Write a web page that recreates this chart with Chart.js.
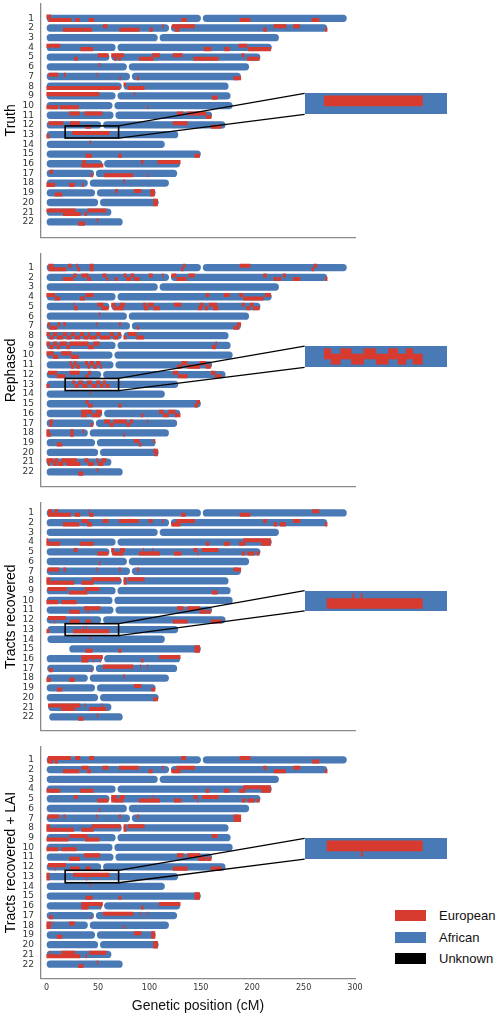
<!DOCTYPE html>
<html>
<head>
<meta charset="utf-8">
<title>Local ancestry karyograms</title>
<script src="https://cdn.jsdelivr.net/npm/chart.js@4.4.1/dist/chart.umd.min.js"></script>
<style>
  html, body { margin: 0; padding: 0; background: #fff; }
  body { position: relative; width: 500px; height: 1017px; overflow: hidden;
         font-family: 'Liberation Sans', Arial, Helvetica, sans-serif; }
  canvas { position: absolute; left: 0; }
  #legend { position: absolute; left: 395px; top: 905px; font-size: 13px; color: #111; }
  #legend div { height: 21.5px; display: flex; align-items: center; }
  #legend span.box { width: 31px; height: 11px; margin-right: 13px; display: inline-block; }
</style>
</head>
<body>
<div id="legend"></div>
<script>
// chromosomes and their genetic lengths (cM)
const chromosomes = ['1','2','3','4','5','6','7','8','9','10','11','12','13','14','15','16','17','18','19','20','21','22'];
const chromLengths = [292, 273, 226, 219, 208, 197, 189, 177, 179, 181, 161, 174, 128, 115, 150, 130, 127, 119, 106, 109, 63, 74];
const centromeres = [151, 120, 109, 68, 62, 79, 82, 74, 68, 65, 66, 54, null, null, null, 55, 47, 41, 48, 51, null, null];
// first covered position per chromosome in the "Tracts recovered" panel
const recoveredStarts = [0, 0, 0, 0, 0, 0, 0, 0, 0, 0, 0, 0, 0.7, 0.7, 22, 0, 0.5, 0, 0, 0, 1.5, 2.5];
const xTicks = [0, 50, 100, 150, 200, 250, 300];
const panelTitles = ['Truth', 'Rephased', 'Tracts recovered', 'Tracts recovered + LAI'];
const legendLabels = ['European', 'African', 'Unknown'];
const zoomRange = [18, 70]; // cM range shown in the zoomed inset (chromosome 13)
const zoomChrom = 13;

// European tracts: [chromosome, haplotype (0 upper, 1 lower), start cM, end cM]
const truthTracts = [
  [1,0,0,4],[1,1,2,24],[1,1,28,32],[1,1,41,46],[1,1,131,136],[1,1,188,198],[1,1,258,265],
  [2,1,16,44],[2,0,55,59],[2,1,71,90],[2,1,100,103],[2,0,112.5,113.5],[2,0,122,144],[2,1,125,129],[2,1,211,214],[2,0,221,233],[2,0,240,246],[2,1,271,273],
  [4,0,0,13],[4,1,33,45],[4,1,153,160],[4,1,173,178],[4,0,187,195],[4,1,196,218],
  [5,1,27,30],[5,0,50,60],[5,0,63,75],[5,1,66,68],[5,1,70,72],[5,1,90,104],[5,0,103,110],[5,0,123,132],[5,1,143,167],[5,0,190,192],[5,1,195,207],
  [6,0,51,52],
  [7,0,2,11],[7,0,17,18.5],[7,0,49,49.6],[7,1,71,72],[7,1,88,89.5],[7,1,182,189],
  [8,1,0,71],[8,0,75,77],[8,1,79,95],
  [9,0,0,51],[9,0,85,85.6],[9,1,161,166],
  [10,1,0,11],[10,1,13,31],[10,1,98,98.6],
  [11,0,22,32],[11,0,37,54],[11,0,127,133],[11,0,137,155],[11,1,155,160],
  [12,0,2,16],[12,0,23,32],[12,1,38,43],[12,0,123,137],[12,1,160,170],
  [13,1,0,2.6],[13,0,25,61],
  [14,0,42,43],
  [15,1,38,44],[15,1,70,73],[15,1,144,149],
  [16,0,35,38],[16,1,34,55],[16,0,92,94],[16,0,108,130],
  [17,0,3,6],[17,1,43,45],[17,1,56,84],[17,1,98,98.6],
  [18,1,0,8],[18,1,22,27],[18,1,35,36],[18,0,75,76],
  [19,1,8,15],[19,0,67,69],[19,0,85,92],[19,0,101,105],[19,1,101,105],
  [20,0,104,108],[20,1,104,108],
  [21,0,0,28],[21,1,16,33],[21,1,37,39],[21,0,40,58],
  [22,1,31,37],[22,0,49,50]
];
const rephasedTracts = [
  [1,0,2,6.5],[1,0,21,24],[1,0,29,30],[1,0,42,45.5],[1,0,133,135],[1,0,188,198],[1,0,260,263],
  [1,1,2,19],[1,1,30,32.5],[1,1,42,45.5],[1,1,131,133],[1,1,258,260],
  [2,1,16,26],[2,0,26,29],[2,0,34,40.5],[2,1,39.5,43],[2,0,54.5,58],[2,1,58,60],[2,1,66.5,69],[2,0,75,77.5],[2,1,77.5,82],[2,0,82,85],[2,1,85,90],[2,0,99.5,103],[2,0,112.5,113.5],[2,0,121.5,126],[2,1,126.5,136],[2,0,138,144],[2,0,211,214],[2,1,221,224],[2,1,225,228],[2,0,230,232.5],[2,1,240,246.5],[2,1,271,273],
  [4,0,0,8],[4,1,8,13],[4,1,32.5,37],[4,0,38,45.5],[4,0,155,158],[4,0,172.5,178],[4,0,187.5,191],[4,1,191.5,211],[4,0,212.5,218],
  [5,0,26.5,27.5],[5,1,27,30],[5,0,49.5,55],[5,1,53.5,60],[5,0,63,66.5],[5,1,65,74.5],[5,0,71.5,76],[5,0,94,97],[5,1,95,99],[5,0,99,104],[5,1,104,110],[5,0,124,131],[5,1,147.5,151],[5,0,149,152.5],[5,1,154,157],[5,0,158,165.5],[5,1,162,167],[5,0,190,192.5],[5,1,194.5,198],[5,0,198,201],[5,1,201,207],
  [6,0,51,52],
  [7,0,1,3],[7,1,3,10],[7,0,11,13],[7,0,16.5,18.5],[7,0,48.5,49.3],[7,0,70.5,72],[7,1,88,89.5],[7,1,182,187],[7,0,185.5,189],
  [8,0,0,3],[8,1,3,6.5],[8,0,6.5,10],[8,1,10,16],[8,0,16,19.5],[8,1,19.5,24],[8,0,24,27.5],[8,1,27.5,32.5],[8,0,32.5,36],[8,1,36,40.5],[8,0,40.5,42],[8,1,42,48.5],[8,0,48.5,52],[8,1,52,61.5],[8,0,61.5,65],[8,1,65,69.5],[8,0,69.5,72],[8,1,75,77.5],[8,0,79.5,87.5],[8,1,87.5,94.5],
  [9,0,0,3],[9,1,3,6.5],[9,0,6.5,10],[9,1,10,13],[9,0,13,19.5],[9,1,19.5,22.5],[9,0,22.5,40.5],[9,1,40.5,45.5],[9,0,45.5,51],[9,1,161,164.5],[9,0,164.5,165.5],
  [10,0,0,6.5],[10,1,6.5,11],[10,0,14.5,24],[10,1,24,31],
  [11,0,22.5,24],[11,1,24,26.5],[11,0,26.5,29],[11,1,29,32],[11,0,37.5,40],[11,1,40,42],[11,0,42,45.5],[11,1,45.5,48.5],[11,0,48.5,52],[11,1,52,53.5],[11,1,127,131.5],[11,0,131.5,136.5],[11,1,137,149],[11,0,149,154.5],[11,1,155,159.5],
  [12,0,1.5,10],[12,1,10,18],[12,0,22.5,32],[12,1,38,40.5],[12,0,40.5,43],[12,0,123,128],[12,1,128,137],[12,0,160,164],[12,1,164,170],
  [13,1,0,2.6],[13,0,25,27.5],[13,1,27.5,31],[13,0,31,35],[13,1,35,39.5],[13,0,39.5,44],[13,1,44,48.5],[13,0,48.5,52],[13,1,52,55],[13,0,55,57.5],[13,1,57.5,61],
  [14,0,42,43],
  [15,0,38,40.5],[15,1,40.5,44.5],[15,1,70,72.5],[15,1,144,147],[15,0,146,149],
  [16,0,34,44],[16,1,34,39],[16,1,44,52],[16,0,48.5,53.5],[16,1,92,94],[16,0,109.5,113.5],[16,1,113.5,118.5],[16,0,118.5,125],[16,1,125,130],
  [17,0,3,6],[17,1,3,5],[17,1,43,45],[17,0,56,61.5],[17,1,61.5,65],[17,0,65,78],[17,1,78,81],[17,0,81,84],[17,0,98,98.6],
  [18,0,0,2.6],[18,1,0,4],[18,1,23,26],[18,0,23.5,26],[18,0,35,36],[18,1,75,76],
  [19,1,10,15],[19,0,85,90],[19,1,90,92],[19,0,104,105.5],
  [20,0,104,108],[20,1,105,108],
  [21,0,0,6.5],[21,0,8,11],[21,0,14.5,29],[21,0,37,40.5],[21,0,48.5,50],[21,0,53.5,58],
  [21,1,1.5,3],[21,1,6.5,10],[21,1,11,16],[21,1,19.5,32.5],[21,1,40.5,45.5],[21,1,50,55],
  [22,1,31,35.5],[22,0,49,50]
];
const recoveredTracts = [
  [1,0,1.5,5],[1,0,8,11],[1,1,1.5,23.5],[1,0,41,41.6],[1,1,27.5,32.5],[1,1,41.5,45.5],[1,1,131,135],[1,1,188,198],[1,0,258.5,265],
  [2,1,16,31.5],[2,0,34,40.5],[2,1,39.5,44],[2,0,54.5,60],[2,0,70.5,89.5],[2,0,99.5,103],[2,0,112.5,113.5],[2,1,121.5,130],[2,0,126.5,144],[2,0,211,214],[2,1,221,224],[2,1,227,232.5],[2,0,240,246.5],[2,1,271,273],
  [4,0,0,1.6],[4,1,0,13],[4,1,32.5,45.5],[4,1,155,158],[4,1,172.5,178],[4,1,187.5,193],[4,0,191.5,218],[4,1,209,218],
  [5,0,26.5,30],[5,1,49.5,60],[5,0,63,65.5],[5,1,64,74.5],[5,0,71.5,76],[5,1,90,110],[5,0,94,94.6],[5,0,103,103.6],[5,1,124,131],[5,0,143,146.5],[5,1,147,147.6],[5,0,151,167],[5,1,190,192.5],[5,1,195.5,202],[5,1,204.5,207],
  [6,1,51,52],
  [7,0,1,12],[7,0,16.5,18.5],[7,0,48.5,49.3],[7,0,70.5,72],[7,0,88,89.5],[7,0,182,189],
  [8,0,0,3],[8,1,0,26.5],[8,1,34,45.5],[8,0,44,71.5],[8,0,75,77.5],[8,1,75,77.5],[8,0,79.5,95],
  [9,0,1,19.5],[9,1,22,39.5],[9,0,37.5,51],[9,1,161,166],
  [10,1,0,11],[10,1,14.5,29],
  [11,1,22,32],[11,0,36.5,52],[11,1,40,40.6],[11,0,127,133],[11,0,137,149],[11,1,149,154.5],[11,1,155.5,159.5],
  [12,0,1.5,18.5],[12,1,7.5,8.1],[12,1,23,32],[12,1,38,43],[12,1,123,137],[12,1,160,170],
  [13,1,0,2.6],[13,1,26,61],[13,0,35.5,36],[13,0,38.5,39],
  [14,0,42,43],
  [15,1,38,44.5],[15,1,70,72.5],[15,0,144,149],[15,1,144,149],
  [16,0,34,54.5],[16,1,34,40.5],[16,1,45,45.6],[16,1,52,52.6],[16,1,92,94],[16,0,109.5,130],
  [17,1,2.5,6],[17,1,43.5,44.1],[17,0,55,84],[17,0,91,91.6],[17,0,98,98.6],
  [18,1,0,4],[18,1,22,27],[18,0,75,76],
  [19,1,10,15],[19,0,85,92],[19,1,102,105.5],
  [20,1,104,108],
  [21,0,1.5,32.5],[21,1,14.5,27.5],[21,0,37,37.6],[21,1,41.5,58],[21,0,53.5,54.1],
  [22,1,31,35.5],[22,0,49,50]
];
const laiTracts = [
  [1,0,1.5,23.5],[1,1,1,6],[1,1,8,11],[1,0,28,32.5],[1,0,41.5,46],[1,0,131,135.5],[1,0,188,198],[1,1,258.5,265],
  [2,1,16,31.5],[2,0,34,40.5],[2,1,39.5,43],[2,0,54.5,60],[2,0,70.5,89.5],[2,1,99.5,103],[2,0,112.5,113.5],[2,1,121.5,130],[2,0,126.5,144],[2,0,211,214],[2,1,221,232.5],[2,0,240,246.5],[2,1,271,273],
  [4,1,0,13],[4,1,32.5,45.5],[4,1,155,158],[4,1,172.5,178],[4,1,187.5,193],[4,0,191.5,218],[4,1,209,218],
  [5,0,26.5,30],[5,1,49.5,60],[5,0,63,68],[5,1,63,74.5],[5,0,71.5,76],[5,1,90,110],[5,0,103,103.6],[5,1,124,131],[5,0,143,146.5],[5,1,147,147.6],[5,0,151.5,167],[5,1,190,193],[5,1,195.5,202],[5,1,204.5,207],
  [6,1,51,52],
  [7,0,1,12],[7,0,16.5,18],[7,0,48.5,49.3],[7,0,70.5,72],[7,0,88,89.5],[7,0,182,189],[7,1,182,189],
  [8,0,0,3],[8,1,0,26.5],[8,1,34,45.5],[8,0,44,72],[8,0,75,77.5],[8,1,75,77.5],[8,0,79.5,95],
  [9,1,0,21],[9,0,22,39.5],[9,1,37.5,51],[9,0,161,166],
  [10,1,0,11],[10,1,14.5,29],
  [11,1,22,32],[11,0,36.5,52],[11,0,127,133],[11,0,137,149],[11,1,148,154.5],[11,1,155.5,160],
  [12,0,1.5,18.5],[12,1,8,8.6],[12,1,23,32],[12,1,38,43],[12,1,123,137],[12,1,160,170],
  [13,0,0,2.6],[13,1,0,2.6],[13,0,26,61],[13,1,38.5,39.1],
  [14,0,42,43],
  [15,1,38,44.5],[15,1,70,72.5],[15,0,144,149],[15,1,144,149],
  [16,0,34,54.5],[16,1,34,40.5],[16,1,52,52.6],[16,1,92,94],[16,0,109.5,130],
  [17,1,2.5,6],[17,1,43.5,44.1],[17,0,55,84],[17,0,91,91.6],[17,0,98,98.6],
  [18,0,0,4],[18,1,0,4],[18,0,6,6.6],[18,0,22,27],[18,1,75,76],
  [19,1,10,15],[19,0,85,92],[19,0,102,105.5],[19,1,102,105.5],
  [20,0,104,108],[20,1,104,108],
  [21,1,0,32.5],[21,0,3,3.6],[21,0,14.5,27.5],[21,1,38,39],[21,0,41.5,58],
  [22,1,31,35.5],[22,0,49,50]
];
const panelTracts = [truthTracts, rephasedTracts, recoveredTracts, laiTracts];

const RED = '#d73a2f', BLUE = '#4a7ab5', BLACK = '#000000';
const legendColors = [RED, BLUE, BLACK];
const FONT = "'Liberation Sans', Arial, Helvetica, sans-serif";
const TICK_FONT = "'DejaVu Sans', sans-serif";

// pixel layout of each panel (spine top/bottom) and its y range, zoom box and inset rows
const panelGeom = [
  { top: 3.3,   bottom: 237.3, yMin: 0.0,  yMax: 23.04, box: [12.1, 13.35], inset: [8.75, 10.91] },
  { top: 254,   bottom: 486.7, yMin: 0.15, yMax: 22.98, box: [12.4, 13.64], inset: [9.08, 11.27] },
  { top: 502.7, bottom: 730.7, yMin: 0.48, yMax: 22.88, box: [12.4, 13.62], inset: [8.99, 11.09] },
  { top: 746.7, bottom: 978.3, yMin: 0.19, yMax: 22.91, box: [12.35, 13.63], inset: [9.08, 11.21] }
];
const insetLeftCm = 251;
const insetWidth = 142;

function chromBars(starts) {
  const out = [];
  chromLengths.forEach((len, i) => {
    const s = starts ? starts[i] : 0, cen = centromeres[i];
    if (cen === null) {
      out.push({ x: [s, len], y: i + 1 });
    } else {
      out.push({ x: [s, cen - 0.9], y: i + 1 });
      out.push({ x: [cen + 0.9, len], y: i + 1 });
    }
  });
  return out;
}

function tractBars(tracts, hap, shift) {
  return tracts.filter(t => t[1] === hap)
    .map(t => ({ x: [t[2], t[3]], y: t[0] + (hap === 0 ? -shift : shift) }));
}

function makeDatasets(tracts, starts, size, onlyChrom) {
  const keep = d => onlyChrom ? Math.round(d.y) === onlyChrom : true;
  const redBase = { backgroundColor: RED, barThickness: size.red, grouped: false, order: 1,
                    borderSkipped: false, inflateAmount: 0.2 };
  return [
    Object.assign({ label: 'European', data: tractBars(tracts, 0, size.shift).filter(keep) }, redBase),
    Object.assign({ label: 'European', data: tractBars(tracts, 1, size.shift).filter(keep) }, redBase),
    { label: 'African', data: chromBars(starts).filter(keep), backgroundColor: BLUE,
      barThickness: size.blue, grouped: false, order: 2, borderRadius: 4, borderSkipped: false, inflateAmount: 0 }
  ];
}

const zoomBox = {
  id: 'zoomBox',
  afterDatasetsDraw(chart, args, opts) {
    const { ctx } = chart, x = chart.scales.x, y = chart.scales.y;
    const x0 = x.getPixelForValue(zoomRange[0]), x1 = x.getPixelForValue(zoomRange[1]);
    const y0 = y.getPixelForValue(opts.box[0]), y1 = y.getPixelForValue(opts.box[1]);
    const ix = x.getPixelForValue(insetLeftCm);
    const iy0 = y.getPixelForValue(opts.inset[0]), iy1 = y.getPixelForValue(opts.inset[1]);
    ctx.save();
    ctx.strokeStyle = '#000';
    ctx.lineWidth = 1.6;
    ctx.strokeRect(x0, y0, x1 - x0, y1 - y0);
    ctx.lineWidth = 1.3;
    ctx.beginPath();
    ctx.moveTo(x1, y0); ctx.lineTo(ix, iy0);
    ctx.moveTo(x1, y1); ctx.lineTo(ix, iy1);
    ctx.stroke();
    ctx.restore();
  }
};

panelTitles.forEach((title, p) => {
  const g = panelGeom[p];
  const last = p === panelTitles.length - 1;
  const top = Math.floor(g.top) - 4;
  const height = last ? 1017 - top : Math.ceil(g.bottom) + 4 - top;
  const canvas = document.createElement('canvas');
  canvas.width = 500;
  canvas.height = height;
  canvas.style.top = top + 'px';
  document.body.appendChild(canvas);

  const chart = new Chart(canvas, {
    type: 'bar',
    data: { datasets: makeDatasets(panelTracts[p], p === 2 ? recoveredStarts : null,
                                   { blue: 7.3, red: 3.65, shift: 0.18 }) },
    options: {
      indexAxis: 'y',
      responsive: false,
      animation: false,
      events: [],
      layout: { padding: { left: 0, right: 145, top: g.top - top, bottom: last ? 0 : top + height - g.bottom } },
      plugins: {
        legend: { display: false },
        tooltip: { enabled: false },
        zoomBox: { box: g.box, inset: g.inset }
      },
      scales: {
        x: {
          type: 'linear', min: -5.5, max: 300,
          afterBuildTicks: s => { s.ticks = xTicks.map(v => ({ value: v })); },
          afterFit: s => {
            s.height = last ? 1017 - g.bottom : 0;
            s.paddingLeft = 0; s.paddingRight = 0;
          },
          grid: { display: false, drawTicks: false },
          border: { color: '#8a8a8a', width: 1.3 },
          ticks: { display: last, padding: 5, color: '#333', font: { family: TICK_FONT, size: 8 } },
          title: { display: last, text: 'Genetic position (cM)', color: '#111',
                   font: { family: FONT, size: 14 }, padding: { top: 2, bottom: 2 } }
        },
        y: {
          type: 'linear', reverse: true, min: g.yMin, max: g.yMax,
          afterBuildTicks: s => { s.ticks = chromosomes.map((c, i) => ({ value: i + 1 })); },
          afterFit: s => {
            s.width = 41;
            s.paddingTop = 0; s.paddingBottom = 0;
          },
          grid: { display: false, drawTicks: false },
          border: { color: '#8a8a8a', width: 1.3 },
          ticks: { autoSkip: false, padding: 7, color: '#333', font: { family: TICK_FONT, size: 9 },
                   callback: v => chromosomes[v - 1] },
          title: { display: true, text: title, color: '#000', font: { family: FONT, size: 14 },
                   padding: { top: 3, bottom: 4 } }
        }
      }
    },
    plugins: [zoomBox]
  });

  // zoomed view of chromosome 13
  const xs = chart.scales.x, ys = chart.scales.y;
  const iy0 = ys.getPixelForValue(g.inset[0]), iy1 = ys.getPixelForValue(g.inset[1]);
  const ic = document.createElement('canvas');
  ic.width = insetWidth;
  ic.height = Math.round(iy1 - iy0);
  ic.style.left = xs.getPixelForValue(insetLeftCm) + 'px';
  ic.style.top = (top + iy0) + 'px';
  document.body.appendChild(ic);
  new Chart(ic, {
    type: 'bar',
    data: { datasets: makeDatasets(panelTracts[p], p === 2 ? recoveredStarts : null,
                                   { blue: ic.height, red: ic.height / 2, shift: 0.25 }, zoomChrom) },
    options: {
      indexAxis: 'y',
      responsive: false,
      animation: false,
      events: [],
      layout: { padding: 0 },
      plugins: { legend: { display: false }, tooltip: { enabled: false } },
      scales: {
        x: { type: 'linear', display: false, min: zoomRange[0], max: zoomRange[1] },
        y: { type: 'linear', display: false, reverse: true, min: zoomChrom - 0.5, max: zoomChrom + 0.5 }
      }
    }
  });
});

// legend
const legend = document.getElementById('legend');
legendLabels.forEach((lab, i) => {
  const row = document.createElement('div');
  const box = document.createElement('span');
  box.className = 'box';
  box.style.background = legendColors[i];
  row.appendChild(box);
  row.appendChild(document.createTextNode(lab));
  legend.appendChild(row);
});
</script>
</body>
</html>
